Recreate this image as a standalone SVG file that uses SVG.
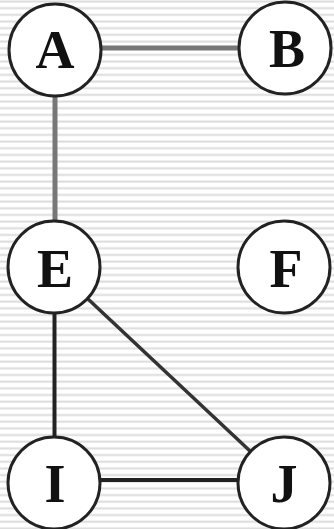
<svg xmlns="http://www.w3.org/2000/svg" width="334" height="529" viewBox="0 0 334 529">
  <defs>
    <pattern id="hatch" patternUnits="userSpaceOnUse" width="334" height="6.67">
      <rect x="0" y="0" width="334" height="6.67" fill="#ffffff"/>
      <rect x="0" y="0.5" width="334" height="2" fill="#dcdcdc"/>
    </pattern>
  </defs>
  <style>
    .node circle { fill: #ffffff; stroke: #222222; stroke-width: 3; }
    .node text { font-family: "Liberation Serif", "DejaVu Serif", serif; font-weight: bold; font-size: 54px; fill: #111111; text-anchor: middle; }
    .edge { stroke-linecap: butt; fill: none; }
    .gray { stroke: #777777; stroke-width: 5; }
    .dark { stroke: #222222; stroke-width: 4; }
    .diag { stroke: #333333; stroke-width: 3.5; }
  </style>
  <rect x="0" y="0" width="334" height="529" fill="url(#hatch)"/>
  <g id="connectors">
    <line class="edge gray" x1="100" y1="48" x2="238" y2="48"/>
    <line class="edge gray" x1="55" y1="96" x2="55" y2="221"/>
    <line class="edge dark" x1="54.5" y1="313" x2="54.5" y2="437"/>
    <line class="edge diag" x1="88" y1="299" x2="250" y2="451"/>
    <line class="edge dark" x1="100" y1="480" x2="238" y2="480"/>
  </g>
  <g id="node-A" class="node">
    <circle cx="55" cy="50" r="46"/>
    <text x="55" y="68">A</text>
  </g>
  <g id="node-B" class="node">
    <circle cx="285" cy="48" r="46"/>
    <text x="287" y="67">B</text>
  </g>
  <g id="node-E" class="node">
    <circle cx="54" cy="267" r="46"/>
    <text x="55" y="287">E</text>
  </g>
  <g id="node-F" class="node">
    <circle cx="284" cy="267" r="46"/>
    <text x="286" y="287">F</text>
  </g>
  <g id="node-I" class="node">
    <circle cx="54" cy="483" r="46"/>
    <text x="55" y="502">I</text>
  </g>
  <g id="node-J" class="node">
    <circle cx="284" cy="483" r="46"/>
    <text x="284" y="502">J</text>
  </g>
</svg>
